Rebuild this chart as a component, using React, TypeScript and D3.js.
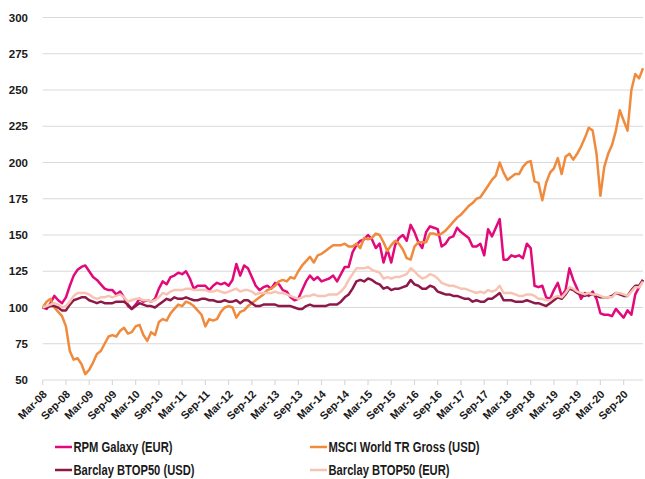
import * as d3 from 'd3'
import { useEffect, useRef } from 'react'

// monthly index values, Mar-08 .. Feb-21
const rpmGalaxy = [
  100, 99, 103, 108, 105, 103, 107, 115, 122, 126, 128, 129,
  125, 121, 119, 116, 113, 112, 112, 109, 111, 107, 101, 99,
  102, 106, 104, 105, 104, 106, 113, 118, 116, 121, 122, 124,
  123, 125, 120, 113, 115, 115, 115, 112, 115, 117, 116, 117,
  115, 119, 130, 122, 129, 127, 121, 115, 112, 114, 115, 113,
  117, 116, 112, 111, 107, 105, 106, 112, 118, 122, 119, 121,
  118, 119, 120, 122, 118, 123, 128, 128, 138, 143, 146, 147,
  150, 147, 141, 144, 131, 140, 131, 143, 148, 150, 146, 157,
  152, 145, 141, 152, 156, 155, 154, 142, 144, 148,
  149, 155, 152, 150, 148, 142, 142, 144, 136, 154, 149, 155, 161, 133, 133, 136, 135, 136, 134,
  144, 141, 115, 114, 115, 107, 106, 112, 117, 108, 112, 127, 119, 113, 106, 110, 108, 111, 106, 96,
  95, 95, 94, 99, 96, 93, 98, 95, 109, 114, 119
]

const msciWorld = [
  100, 104, 106, 100, 97, 94, 87, 70, 64, 65, 61, 54,
  57, 62, 68, 70, 75, 80, 81, 80, 84, 86, 82, 83,
  87, 88, 81, 77, 83, 81, 90, 92, 91, 96, 99, 102,
  101, 104, 103, 101, 98, 95, 87, 92, 91, 92, 97, 100,
  101, 100, 93, 97, 98, 101, 103, 105, 107, 109, 112, 113,
  115, 118, 119, 118, 121, 120, 125, 129, 132, 135, 131, 136,
  137, 139, 141, 143, 143, 143, 144, 142, 142, 144, 141, 148,
  147, 148, 151, 150, 145, 139, 143, 146, 144, 140, 134, 133,
  142, 145, 145, 145, 151, 151, 150, 151, 153, 156,
  159, 162, 164, 167, 170, 172, 175, 176, 180, 184, 188, 191, 200, 193, 188, 190, 192, 192, 197,
  200, 201, 187, 186, 174, 186, 193, 196, 203, 192, 204, 206, 202, 206, 211, 217, 224, 222, 206, 177,
  197, 206, 212, 222, 236, 229, 222, 250, 261, 258, 265
]

const btopUsd = [
  100, 100, 101, 101, 100, 98, 98, 102, 105, 106, 107, 107,
  105, 104, 103, 104, 103, 103, 103, 104, 104, 104, 102, 99,
  101, 103, 102, 101, 101, 100, 102, 104, 106, 105, 107, 106,
  106, 107, 106, 105, 105, 106, 106, 105, 105, 104, 104, 105,
  104, 104, 105, 103, 105, 105, 103, 101, 101, 102, 102, 102,
  102, 101, 101, 101, 101, 100, 99, 99, 101, 102, 101, 101,
  101, 101, 102, 102, 102, 104, 107, 109, 113, 118, 119, 118,
  120, 119, 117, 116, 113, 114, 112, 113, 113, 114, 115, 119,
  116, 115, 113, 113, 115, 114, 111, 110, 109, 109,
  108, 108, 107, 106, 106, 104, 105, 104, 104, 106, 106, 108, 110, 105, 105, 105, 104, 104, 104,
  105, 104, 103, 103, 102, 101, 103, 105, 107, 106, 109, 113, 112, 110, 109, 108, 109, 109, 108, 107,
  107, 107, 108, 110, 109, 108, 108, 112, 115, 115, 119
]

const btopEur = [
  100, 101, 102, 103, 102, 100, 101, 104, 108, 110, 110, 110,
  109, 107, 106, 107, 107, 108, 107, 108, 109, 107, 104, 105,
  106, 106, 105, 105, 104, 105, 107, 110, 109, 111, 112, 112,
  112, 113, 113, 112, 112, 112, 112, 111, 111, 112, 111, 110,
  111, 112, 113, 111, 112, 112, 111, 109, 110, 110, 110, 110,
  111, 110, 110, 109, 108, 107, 106, 107, 108, 108, 109, 108,
  108, 108, 109, 109, 109, 111, 114, 119, 123, 127, 127, 127,
  128, 126, 125, 124, 120, 121, 120, 121, 121, 122, 123, 127,
  125, 122, 120, 121, 123, 122, 120, 117, 116, 115,
  115, 114, 113, 113, 112, 111, 110, 111, 110, 112, 111, 112, 115, 110, 110, 110, 109, 108, 108,
  109, 109, 108, 106, 106, 105, 105, 107, 108, 107, 110, 114, 113, 111, 110, 109, 110, 109, 109, 108,
  107, 107, 107, 110, 110, 109, 108, 111, 114, 114, 118
]

const tickLabels = [
  'Mar-08', 'Sep-08', 'Mar-09', 'Sep-09', 'Mar-10', 'Sep-10', 'Mar-11', 'Sep-11', 'Mar-12',
  'Sep-12', 'Mar-13', 'Sep-13', 'Mar-14', 'Sep-14', 'Mar-15', 'Sep-15', 'Mar-16', 'Sep-16',
  'Mar-17', 'Sep-17', 'Mar-18', 'Sep-18', 'Mar-19', 'Sep-19', 'Mar-20', 'Sep-20'
]
const yTicks = [50, 75, 100, 125, 150, 175, 200, 225, 250, 275, 300]

const seriesNames = ['RPM Galaxy (EUR)', 'MSCI World TR Gross (USD)', 'Barclay BTOP50 (USD)', 'Barclay BTOP50 (EUR)']
const seriesColors = ['#E2097A', '#F08A3C', '#8E1848', '#F7C4B4']

export default function App() {
  const svgRef = useRef(null)
  const width = 645, height = 479
  const left = 42.7, right = 643, top = 17.5, bottom = 380

  useEffect(() => {
    const svg = d3.select(svgRef.current)
    svg.selectAll('*').remove()
    const font = '"Liberation Sans", Arial, sans-serif'

    const n = rpmGalaxy.length
    const x = d3.scaleLinear().domain([0, n - 1]).range([left, right])
    const y = d3.scaleLinear().domain([50, 300]).range([bottom, top])

    // gridlines
    svg.append('g').selectAll('line')
      .data(yTicks)
      .join('line')
        .attr('x1', left)
        .attr('x2', right)
        .attr('y1', d => y(d))
        .attr('y2', d => y(d))
        .attr('stroke', '#D9D9D9')
        .attr('stroke-width', 1.2)

    // y labels
    svg.append('g').selectAll('text')
      .data(yTicks)
      .join('text')
        .attr('x', 28)
        .attr('y', d => y(d))
        .attr('dy', '0.35em')
        .attr('text-anchor', 'end')
        .style('font', `bold 11.5px ${font}`)
        .attr('fill', '#1a1a1a')
        .text(d => d)

    // x ticks + labels
    const xt = svg.append('g')
    xt.selectAll('line')
      .data(tickLabels)
      .join('line')
        .attr('x1', (d, i) => x(i * 6))
        .attr('x2', (d, i) => x(i * 6))
        .attr('y1', bottom)
        .attr('y2', bottom + 5)
        .attr('stroke', '#D9D9D9')
        .attr('stroke-width', 1.2)
    xt.selectAll('text')
      .data(tickLabels)
      .join('text')
        .attr('text-anchor', 'end')
        .attr('transform', (d, i) => `translate(${x(i * 6) + 5},${bottom + 15}) rotate(-45)`)
        .style('font', `bold 11px ${font}`)
        .attr('fill', '#1a1a1a')
        .text(d => d)

    const line = d3.line().x((d, i) => x(i)).y(d => y(d))
    const data = [rpmGalaxy, msciWorld, btopUsd, btopEur]
    svg.append('g').selectAll('path')
      .data(data)
      .join('path')
        .attr('d', d => line(d))
        .attr('fill', 'none')
        .attr('stroke', (d, i) => seriesColors[i])
        .attr('stroke-width', 2.5)
        .attr('stroke-linejoin', 'round')

    // legend
    const legendPos = [[55, 447], [310, 447], [55, 470], [310, 470]]
    const legendLen = [99, 151, 121, 121]
    const lg = svg.append('g').selectAll('g')
      .data(seriesNames)
      .join('g')
        .attr('transform', (d, i) => `translate(${legendPos[i][0]},${legendPos[i][1]})`)
    lg.append('line')
      .attr('x1', 0)
      .attr('x2', 17)
      .attr('stroke', (d, i) => seriesColors[i])
      .attr('stroke-width', 2.5)
    lg.append('text')
      .attr('x', 18.5)
      .attr('dy', '0.35em')
      .attr('textLength', (d, i) => legendLen[i])
      .attr('lengthAdjust', 'spacingAndGlyphs')
      .style('font', `bold 14px ${font}`)
      .attr('fill', '#1a1a1a')
      .text(d => d)
  }, [])

  return (
    <svg ref={svgRef} width={width} height={height}
      style={{ position: 'absolute', left: 0, top: 0, background: '#fff' }} />
  )
}
